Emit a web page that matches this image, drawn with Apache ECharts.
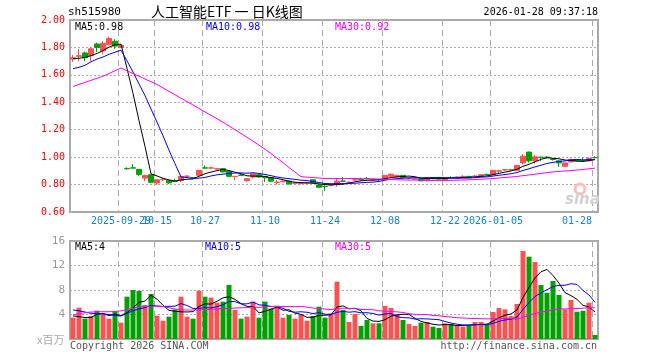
<!DOCTYPE html>
<html><head><meta charset="utf-8">
<script src="https://cdn.jsdelivr.net/npm/echarts@6.0.0/dist/echarts.min.js"></script>
<style>html,body{margin:0;padding:0;background:#fff}#c{width:660px;height:360px}</style>
</head><body><div id="c"></div>
<script>
const dates = [
'2025-09-17','2025-09-18','2025-09-19','2025-09-22','2025-09-23','2025-09-24','2025-09-25','2025-09-26','2025-09-29','2025-09-30',
'2025-10-09','2025-10-10','2025-10-13','2025-10-14','2025-10-15','2025-10-16','2025-10-17','2025-10-20','2025-10-21','2025-10-22',
'2025-10-23','2025-10-24','2025-10-27','2025-10-28','2025-10-29','2025-10-30','2025-10-31','2025-11-03','2025-11-04','2025-11-05',
'2025-11-06','2025-11-07','2025-11-10','2025-11-11','2025-11-12','2025-11-13','2025-11-14','2025-11-17','2025-11-18','2025-11-19',
'2025-11-20','2025-11-21','2025-11-24','2025-11-25','2025-11-26','2025-11-27','2025-11-28','2025-12-01','2025-12-02','2025-12-03',
'2025-12-04','2025-12-05','2025-12-08','2025-12-09','2025-12-10','2025-12-11','2025-12-12','2025-12-15','2025-12-16','2025-12-17',
'2025-12-18','2025-12-19','2025-12-22','2025-12-23','2025-12-24','2025-12-25','2025-12-26','2025-12-29','2025-12-30','2025-12-31',
'2026-01-05','2026-01-06','2026-01-07','2026-01-08','2026-01-09','2026-01-12','2026-01-13','2026-01-14','2026-01-15','2026-01-16',
'2026-01-19','2026-01-20','2026-01-21','2026-01-22','2026-01-23','2026-01-26','2026-01-27','2026-01-28'];

const opens = [
1.715,1.735,1.76,1.74,1.825,1.775,1.82,1.845,1.80,0.918,
0.922,0.911,0.847,0.872,0.812,0.835,0.83,0.826,0.83,0.86,
0.851,0.867,0.922,0.92,0.914,0.916,0.896,0.858,0.869,0.83,
0.855,0.872,0.86,0.85,0.815,0.82,0.825,0.81,0.808,0.81,
0.835,0.797,0.787,0.795,0.805,0.826,0.815,0.833,0.837,0.844,
0.833,0.837,0.842,0.86,0.856,0.867,0.845,0.84,0.842,0.83,
0.848,0.844,0.835,0.852,0.853,0.858,0.86,0.86,0.86,0.874,
0.872,0.898,0.907,0.907,0.904,0.958,1.037,0.973,1.0,1.0,
0.985,0.973,0.933,0.965,0.983,0.975,0.973,0.998];
const closes = [
1.725,1.74,1.725,1.79,1.80,1.83,1.865,1.81,1.815,0.915,
0.92,0.874,0.867,0.817,0.835,0.838,0.812,0.824,0.859,0.862,
0.849,0.904,0.92,0.922,0.916,0.892,0.86,0.86,0.867,0.842,
0.879,0.855,0.85,0.825,0.818,0.825,0.805,0.812,0.81,0.812,
0.812,0.78,0.785,0.80,0.825,0.824,0.817,0.835,0.835,0.842,
0.835,0.835,0.867,0.876,0.867,0.852,0.847,0.842,0.827,0.85,
0.847,0.842,0.852,0.85,0.855,0.86,0.85,0.862,0.872,0.872,
0.904,0.90,0.909,0.909,0.94,1.007,0.973,1.002,0.998,0.998,
0.983,0.958,0.958,0.983,0.973,0.973,0.99,0.996];
const lows = [
1.695,1.70,1.70,1.70,1.765,1.75,1.815,1.79,1.795,0.908,
0.918,0.862,0.825,0.81,0.798,0.825,0.805,0.82,0.817,0.855,
0.845,0.86,0.915,0.915,0.91,0.89,0.857,0.83,0.862,0.82,
0.845,0.852,0.818,0.818,0.80,0.818,0.80,0.80,0.80,0.805,
0.81,0.775,0.755,0.785,0.785,0.82,0.81,0.828,0.83,0.838,
0.83,0.825,0.84,0.855,0.852,0.85,0.835,0.835,0.825,0.822,
0.84,0.838,0.833,0.845,0.85,0.855,0.848,0.855,0.858,0.868,
0.87,0.878,0.90,0.90,0.90,0.948,0.96,0.953,0.973,0.99,
0.975,0.928,0.93,0.963,0.97,0.97,0.97,0.99];
const highs = [
1.745,1.79,1.77,1.80,1.835,1.845,1.88,1.86,1.825,0.925,
0.948,0.912,0.868,0.874,0.836,0.847,0.832,0.842,0.867,0.867,
0.855,0.906,0.94,0.93,0.922,0.918,0.898,0.862,0.88,0.845,
0.88,0.875,0.862,0.852,0.835,0.83,0.827,0.82,0.815,0.818,
0.837,0.80,0.805,0.805,0.842,0.855,0.825,0.845,0.85,0.855,
0.84,0.842,0.87,0.88,0.869,0.869,0.85,0.845,0.844,0.852,
0.85,0.848,0.853,0.86,0.858,0.868,0.862,0.87,0.874,0.88,
0.906,0.905,0.912,0.912,0.942,1.022,1.04,1.015,1.002,1.007,
0.99,0.975,0.96,0.99,0.986,0.998,0.998,1.007];

const ma5 = [
1.719,1.721,1.727,1.74,1.756,1.777,1.802,1.819,1.824,1.647,
1.465,1.267,1.078,0.879,0.863,0.846,0.834,0.825,0.834,0.839,
0.841,0.860,0.879,0.891,0.902,0.911,0.902,0.890,0.879,0.864,
0.862,0.861,0.859,0.850,0.845,0.835,0.825,0.817,0.814,0.813,
0.810,0.805,0.800,0.798,0.800,0.803,0.810,0.820,0.827,0.831,
0.833,0.836,0.843,0.851,0.856,0.859,0.862,0.857,0.847,0.844,
0.843,0.842,0.844,0.848,0.849,0.852,0.853,0.855,0.860,0.863,
0.872,0.882,0.891,0.899,0.912,0.933,0.948,0.966,0.984,0.996,
0.991,0.988,0.979,0.976,0.971,0.969,0.975,0.983];
const ma10 = [
1.645,1.655,1.67,1.695,1.715,1.73,1.75,1.765,1.78,1.702,
1.621,1.534,1.449,1.351,1.255,1.156,1.050,0.952,0.856,0.851,
0.844,0.847,0.852,0.863,0.871,0.876,0.881,0.884,0.885,0.883,
0.886,0.881,0.874,0.865,0.855,0.848,0.843,0.838,0.832,0.829,
0.822,0.815,0.808,0.806,0.807,0.807,0.808,0.810,0.813,0.816,
0.818,0.823,0.832,0.839,0.843,0.846,0.849,0.850,0.849,0.850,
0.851,0.852,0.850,0.848,0.846,0.847,0.848,0.850,0.854,0.856,
0.862,0.868,0.873,0.879,0.888,0.903,0.915,0.929,0.941,0.954,
0.962,0.968,0.973,0.980,0.983,0.980,0.982,0.981];
const ma30 = [
1.515,1.53,1.545,1.56,1.575,1.59,1.61,1.63,1.65,1.63,
1.61,1.59,1.57,1.55,1.53,1.505,1.48,1.455,1.43,1.405,
1.38,1.355,1.33,1.305,1.28,1.255,1.228,1.2,1.172,1.145,
1.117,1.087,1.058,1.026,0.993,0.960,0.925,0.891,0.858,0.854,
0.851,0.848,0.845,0.844,0.844,0.844,0.844,0.844,0.843,0.843,
0.842,0.840,0.838,0.837,0.835,0.834,0.833,0.833,0.831,0.831,
0.830,0.830,0.830,0.831,0.832,0.833,0.835,0.836,0.839,0.841,
0.844,0.848,0.852,0.855,0.859,0.865,0.870,0.876,0.881,0.887,
0.892,0.896,0.899,0.902,0.906,0.910,0.915,0.920];

const volumes = [
3.48,5.12,3.32,3.76,4.63,4.03,3.32,4.52,2.67,6.91,
8.0,7.84,5.55,7.35,3.81,2.99,3.65,4.84,6.91,3.65,
3.32,7.89,6.91,6.75,5.93,6.1,8.82,4.73,3.32,3.65,
6.1,3.48,6.1,4.95,5.44,3.48,3.92,3.32,3.92,2.99,
3.76,5.28,3.48,4.2,9.36,4.73,2.78,4.08,2.12,3.1,
2.56,2.56,5.39,5.06,4.08,3.1,2.45,2.12,2.67,2.78,
2.01,1.8,2.56,2.45,2.12,2.01,2.23,2.78,2.78,2.34,
4.41,5.06,4.84,3.76,5.71,14.37,13.44,12.57,8.82,7.56,
9.47,7.18,4.84,6.37,4.46,4.62,5.93,0.65];
const volMa5 = [
3.76,3.65,3.5,3.5,4.06,4.17,3.81,4.05,3.83,4.29,
5.08,5.99,6.19,7.13,6.51,5.51,4.67,4.53,4.44,4.41,
4.47,5.32,5.74,5.70,6.16,6.72,6.90,6.47,5.78,5.32,
5.32,4.26,4.53,4.86,5.21,4.69,4.78,4.22,4.02,3.53,
3.58,3.85,3.89,3.94,5.22,5.41,4.91,5.03,4.61,3.36,
2.93,2.88,3.15,3.73,3.93,4.04,4.02,3.36,2.88,2.62,
2.41,2.28,2.36,2.32,2.19,2.19,2.27,2.32,2.38,2.43,
2.91,3.47,3.89,4.08,4.76,6.75,8.42,9.97,10.98,11.35,
10.37,9.12,7.57,7.08,6.46,5.49,5.24,4.41];
const volMa10 = [
4.75,4.6,4.4,4.2,4.1,4.1,4.0,3.85,3.75,4.18,
4.63,4.90,5.12,5.48,5.40,5.30,5.33,5.36,5.79,5.46,
4.99,5.00,5.13,5.07,5.28,5.60,6.11,6.10,5.74,5.74,
6.02,5.58,5.50,5.32,5.27,5.01,4.52,4.38,4.44,4.37,
4.14,4.32,4.05,3.98,4.37,4.50,4.38,4.46,4.28,4.29,
4.17,3.90,4.09,4.17,3.65,3.48,3.45,3.25,3.31,3.28,
3.22,3.15,2.86,2.60,2.41,2.30,2.28,2.34,2.35,2.31,
2.55,2.87,3.10,3.23,3.59,4.83,5.95,6.93,7.53,8.05,
8.56,8.77,8.77,9.03,8.91,7.93,7.18,5.99];
const volMa30 = [
3.95,4.1,4.3,4.4,4.45,4.45,4.45,4.5,4.6,4.8,
5.0,5.2,5.3,5.35,5.38,5.3,5.1,4.9,4.75,4.73,
4.73,4.75,4.8,4.85,4.9,4.95,5.0,5.05,5.1,5.13,
5.21,5.16,5.25,5.29,5.32,5.30,5.32,5.28,5.32,5.19,
5.05,4.96,4.89,4.79,4.97,5.03,5.00,4.98,4.82,4.80,
4.78,4.60,4.55,4.49,4.43,4.33,4.12,4.03,4.01,3.98,
3.84,3.79,3.67,3.59,3.47,3.43,3.37,3.35,3.31,3.29,
3.31,3.31,3.35,3.34,3.21,3.54,3.89,4.17,4.40,4.55,
4.78,4.93,4.91,4.96,4.97,5.02,5.14,5.09];

const tickDates = ['2025-09-29','2025-10-15','2025-10-27','2025-11-10','2025-11-24','2025-12-08','2025-12-22','2026-01-05','2026-01-28'];
const tickLabels = ['2025-09-29','10-15','10-27','11-10','11-24','12-08','12-22','2026-01-05','01-28'];
const priceTicks = {min: 0.6, max: 2.0, step: 0.2};
const volTicks = {min: 0, max: 16, step: 4};

const UP = '#f85252', DOWN = '#00a000';
const MONO = '"DejaVu Sans Mono", "Liberation Mono", monospace';
const LABEL_BLUE = '#1580d0';
const tickIdx = tickDates.map(d => dates.indexOf(d));
const isTick = (i) => tickIdx.indexOf(i) >= 0;
// first tick label goes on its own axis so it is not hidden by the overlapping second label
const firstTick = (i) => i === tickIdx[0];
const otherTick = (i) => isTick(i) && i !== tickIdx[0];

const chart = echarts.init(document.getElementById('c'), null, {renderer: 'canvas'});
const dashed = {show: true, interval: (i) => isTick(i), lineStyle: {color: '#aaa', type: [6, 4], width: 1}};
const dotted = {show: true, lineStyle: {color: '#aaa', type: [2, 2], width: 1}};
const labelFmt = (v) => {
  const k = tickDates.indexOf(v);
  if (k < 0) return '';
  if (k === tickDates.length - 1) return '{r|' + tickLabels[k] + '}';
  return tickLabels[k];
};

function txt(text, x, y, fill, font, align) {
  return {type: 'text', x: x, y: y, silent: true, z: 100,
    style: {text: text, fill: fill, font: font, align: align || 'left', verticalAlign: 'middle'}};
}

const option = {
  animation: false,
  backgroundColor: '#fff',
  grid: [
    {left: 70, top: 20, width: 528, height: 192, show: true, borderColor: '#aaa', borderWidth: 2, backgroundColor: 'transparent'},
    {left: 70, top: 241, width: 528, height: 98, show: true, borderColor: '#aaa', borderWidth: 2, backgroundColor: 'transparent'}
  ],
  xAxis: [
    {type: 'category', gridIndex: 0, data: dates, boundaryGap: true, position: 'bottom', offset: 0,
     axisLine: {show: false}, axisTick: {show: false}, splitLine: dashed,
     axisLabel: {show: true, hideOverlap: false, interval: otherTick, color: LABEL_BLUE, fontFamily: MONO, fontSize: 10, margin: 4,
       formatter: labelFmt,
       rich: {r: {color: LABEL_BLUE, fontFamily: MONO, fontSize: 10, padding: [0, 36, 0, 0]}}
     }},
    {type: 'category', gridIndex: 1, data: dates, boundaryGap: true,
     axisLine: {show: false}, axisTick: {show: false}, axisLabel: {show: false}, splitLine: dashed},
    {type: 'category', gridIndex: 0, data: dates, boundaryGap: true, position: 'bottom', offset: 0,
     axisLine: {show: false}, axisTick: {show: false}, splitLine: {show: false},
     axisLabel: {show: true, hideOverlap: false, interval: firstTick, color: LABEL_BLUE, fontFamily: MONO, fontSize: 10, margin: 4,
       formatter: labelFmt}}
  ],
  yAxis: [
    {type: 'value', gridIndex: 0, min: priceTicks.min, max: priceTicks.max, interval: priceTicks.step,
     axisLine: {show: false}, axisTick: {show: false}, splitLine: dotted,
     axisLabel: {color: '#ff0000', fontFamily: MONO, fontSize: 10, margin: 5, formatter: v => v.toFixed(2)}},
    {type: 'value', gridIndex: 1, min: volTicks.min, max: volTicks.max, interval: volTicks.step,
     axisLine: {show: false}, axisTick: {show: false}, splitLine: dotted,
     axisLabel: {color: '#999', fontFamily: MONO, fontSize: 11, margin: 5, formatter: v => v === 0 ? '' : String(v)}}
  ],
  series: [
    {type: 'candlestick', xAxisIndex: 0, yAxisIndex: 0, barWidth: 5,
     data: dates.map((d, i) => [opens[i], closes[i], lows[i], highs[i]]),
     itemStyle: {color: UP, color0: DOWN, borderColor: UP, borderColor0: DOWN, borderWidth: 1}},
    {type: 'line', xAxisIndex: 0, yAxisIndex: 0, data: ma5, symbol: 'none', lineStyle: {color: '#000', width: 1}, z: 5},
    {type: 'line', xAxisIndex: 0, yAxisIndex: 0, data: ma10, symbol: 'none', lineStyle: {color: '#0000ff', width: 1}, z: 5},
    {type: 'line', xAxisIndex: 0, yAxisIndex: 0, data: ma30, symbol: 'none', lineStyle: {color: '#ff00ff', width: 1}, z: 5},
    {type: 'bar', xAxisIndex: 1, yAxisIndex: 1, barWidth: 5,
     data: volumes.map((v, i) => ({value: v, itemStyle: {color: closes[i] >= opens[i] ? UP : DOWN}}))},
    {type: 'line', xAxisIndex: 1, yAxisIndex: 1, data: volMa5, symbol: 'none', lineStyle: {color: '#000', width: 1}, z: 5},
    {type: 'line', xAxisIndex: 1, yAxisIndex: 1, data: volMa10, symbol: 'none', lineStyle: {color: '#0000ff', width: 1}, z: 5},
    {type: 'line', xAxisIndex: 1, yAxisIndex: 1, data: volMa30, symbol: 'none', lineStyle: {color: '#ff00ff', width: 1}, z: 5}
  ],
  graphic: [
    txt('sh515980', 68, 12, '#000', '11px ' + MONO),
    txt('人工智能ETF 一 日K线图', 151, 12, '#000', '14px "Noto Sans CJK SC"'),
    txt('2026-01-28 09:37:18', 598, 12, '#000', '10px ' + MONO, 'right'),
    txt('MA5:' + ma5[ma5.length - 1].toFixed(2), 75, 27, '#000', '10px ' + MONO),
    txt('MA10:' + ma10[ma10.length - 1].toFixed(2), 206, 27, '#0000ff', '10px ' + MONO),
    txt('MA30:' + ma30[ma30.length - 1].toFixed(2), 335, 27, '#ff00ff', '10px ' + MONO),
    txt('MA5:' + Math.floor(volMa5[volMa5.length - 1]), 75, 247, '#000', '10px ' + MONO),
    txt('MA10:' + Math.floor(volMa10[volMa10.length - 1]), 205, 247, '#0000ff', '10px ' + MONO),
    txt('MA30:' + Math.floor(volMa30[volMa30.length - 1]), 335, 247, '#ff00ff', '10px ' + MONO),
    txt('x百万', 37, 340, '#aaa', '11px "Noto Sans CJK SC"'),
    txt('Copyright 2026 SINA.COM', 70, 346, '#555', '10px ' + MONO),
    txt('http://finance.sina.com.cn', 597, 346, '#555', '10px ' + MONO, 'right'),
    {type: 'circle', shape: {cx: 580, cy: 189, r: 5}, silent: true, z: 1,
     style: {fill: 'none', stroke: '#f6c0c0', lineWidth: 3}},
    txt('sina', 565, 200, '#d2d2d2', 'italic bold 15px "DejaVu Sans"')
  ]
};
chart.setOption(option);
</script>
</body></html>
